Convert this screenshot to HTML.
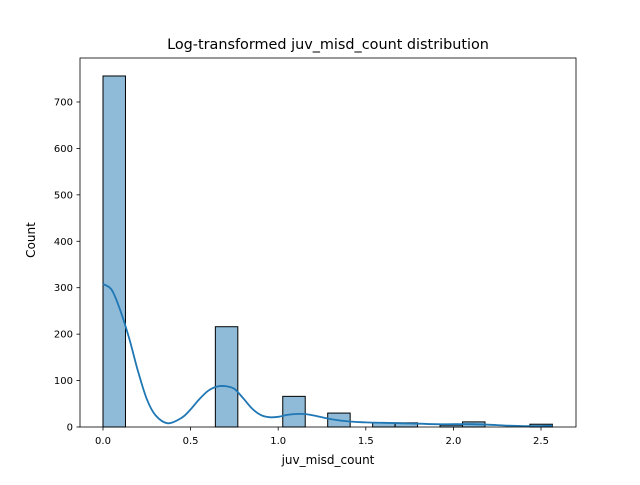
<!DOCTYPE html>
<html><head><meta charset="utf-8"><style>
body{margin:0;background:#fff;font-family:"Liberation Sans","DejaVu Sans",sans-serif}
</style></head><body>
<svg id="chart" width="640" height="480" xmlns="http://www.w3.org/2000/svg" font-family="'DejaVu Sans','Liberation Sans',sans-serif">
<rect width="640" height="480" fill="#fff"/>
<text x="328" y="49" text-anchor="middle" font-size="14.4">Log-transformed juv_misd_count distribution</text>
<g id="bars"></g>
<path id="kde" fill="none" stroke="#1f77b4" stroke-width="1.8"/>
<g id="axes"></g>
<text x="328" y="464" text-anchor="middle" font-size="12">juv_misd_count</text>
<text transform="translate(35,240) rotate(-90)" text-anchor="middle" font-size="12">Count</text>
</svg>
<script>
const counts=[756,0,0,0,0,216,0,0,66,0,30,0,9,9,0,4,11,0,0,6];
const binMax=2.565;
const kdeX=[0,0.05,0.1,0.15,0.2,0.25,0.3,0.37,0.45,0.5,0.55,0.6,0.65,0.7,0.75,0.8,0.85,0.9,0.95,1.0,1.05,1.1,1.15,1.2,1.3,1.4,1.5,1.6,1.7,1.8,1.9,2.0,2.1,2.2,2.3,2.4,2.5,2.565];
const kdeY=[308,295,250,190,120,60,25,8,20,38,60,78,87,88,82,62,40,26,21,22,26,28,28,25,17,12,10,9,8,7,6,6,6,5,3,2,2,3];
const xTicks=[0,0.5,1.0,1.5,2.0,2.5];
const xTickLabels=["0.0","0.5","1.0","1.5","2.0","2.5"];
const yTicks=[0,100,200,300,400,500,600,700];
const L=80,R=576,T=58,B=427;
const xs=v=>103+v*175.2;
const ys=v=>427-v*0.4643;
const NS="http://www.w3.org/2000/svg";
const bars=document.getElementById('bars');
const w=binMax/counts.length;
counts.forEach((c,i)=>{
 if(c<=0)return;
 const r=document.createElementNS(NS,'rect');
 const x0=xs(i*w),x1=xs((i+1)*w);
 r.setAttribute('x',x0);r.setAttribute('width',x1-x0);
 r.setAttribute('y',ys(c));r.setAttribute('height',ys(0)-ys(c));
 r.setAttribute('fill','rgba(31,119,180,0.5)');r.setAttribute('stroke','#000');r.setAttribute('stroke-width','1');
 
 
 bars.appendChild(r);
});
const P=kdeX.map((x,i)=>[xs(x),ys(kdeY[i])]);
let d='M'+P[0][0].toFixed(1)+','+P[0][1].toFixed(1);
for(let i=0;i<P.length-1;i++){
 const p0=P[Math.max(0,i-1)],p1=P[i],p2=P[i+1],p3=P[Math.min(P.length-1,i+2)];
 const c1x=p1[0]+(p2[0]-p0[0])/6,c1y=p1[1]+(p2[1]-p0[1])/6;
 const c2x=p2[0]-(p3[0]-p1[0])/6,c2y=p2[1]-(p3[1]-p1[1])/6;
 d+=`C${c1x.toFixed(1)},${c1y.toFixed(1)} ${c2x.toFixed(1)},${c2y.toFixed(1)} ${p2[0].toFixed(1)},${p2[1].toFixed(1)}`;
}
document.getElementById('kde').setAttribute('d',d);
const ax=document.getElementById('axes');
let h=`<rect x="${L}" y="${T}" width="${R-L}" height="${B-T}" fill="none" stroke="#000" stroke-width="0.8"/>`;
xTicks.forEach((t,i)=>{const x=xs(t);h+=`<line x1="${x}" y1="${B}" x2="${x}" y2="${B+3.5}" stroke="#000" stroke-width="0.8"/><text x="${x}" y="${B+17}" text-anchor="middle" font-size="10">${xTickLabels[i]}</text>`;});
yTicks.forEach(t=>{const y=ys(t);h+=`<line x1="${L-3.5}" y1="${y}" x2="${L}" y2="${y}" stroke="#000" stroke-width="0.8"/><text x="${L-7}" y="${y+3.5}" text-anchor="end" font-size="10">${t}</text>`;});
ax.innerHTML=h;


</script>
</body></html>
